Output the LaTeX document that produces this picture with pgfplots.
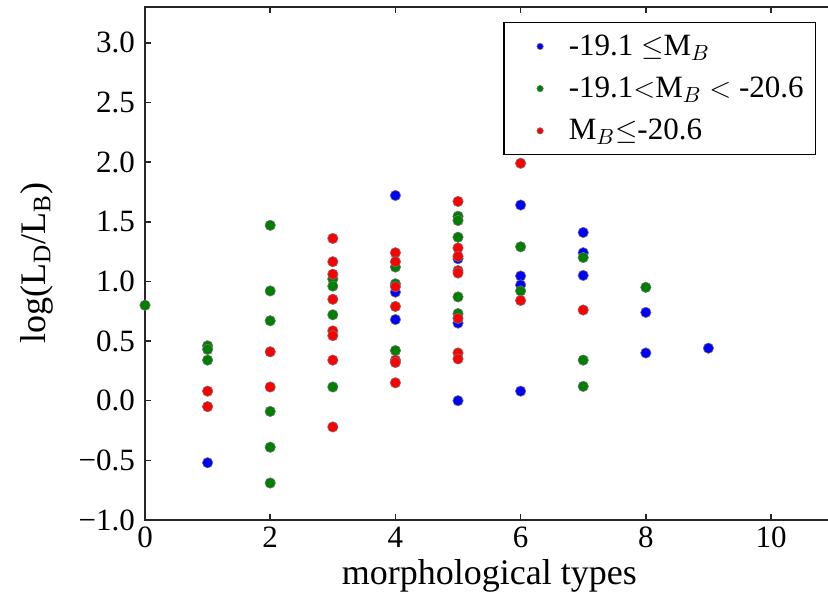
\documentclass[border=0pt]{standalone}
\usepackage{fontspec}
\setmainfont{Liberation Serif}
\usepackage{pgfplots}
\pgfplotsset{compat=1.18}
\definecolor{mblue}{rgb}{0,0,1}
\definecolor{mgreen}{rgb}{0,0.5,0}
\definecolor{mred}{rgb}{1,0,0}
\begin{document}
\begin{tikzpicture}
\begin{axis}[
  scale only axis,
  width=344.3pt, height=256.5pt,
  xmin=0, xmax=11, ymin=-1, ymax=3.3,
  xtick={0,2,4,6,8,10},
  ytick={-1,-0.5,0,0.5,1,1.5,2,2.5,3},
  yticklabels={−1.0,−0.5,0.0,0.5,1.0,1.5,2.0,2.5,3.0},
  xticklabels={0,2,4,6,8,10},
  tick label style={font=\fontsize{15.5}{17}\selectfont},
  yticklabel style={xshift=-1.5pt},
  label style={font=\fontsize{18}{20}\selectfont},
  xlabel={morphological types},
  ylabel={log(L\textsubscript{D}/L\textsubscript{B})},
  ylabel style={yshift=6pt},
  xlabel style={yshift=1pt},
  major tick length=2.9pt,
  tick style={black!85, line width=0.8pt},
  axis line style={black!85, line width=0.9pt},
  clip=false,
  legend cell align=left,
  legend style={draw=black, line width=0.8pt, at={(0.975,0.971)}, anchor=north east,
    font=\fontsize{15.5}{18}\selectfont, row sep=5.3pt, inner sep=4pt},
  legend image code/.code={\path (0cm,0cm) (0.9cm,0cm); \draw[#1, mark size=1.6pt] plot coordinates {(0.48cm,0cm)};},
]
\addplot[only marks, mark=*, mark size=2.6pt, mark options={fill=mblue, draw=black!55, line width=0.3pt}] coordinates {
(1,-0.52) (4,1.72) (4,0.91) (4,0.68) (5,1.19) (5,0.65) (5,0.0) (6,1.64) (6,1.045) (6,0.97) (6,0.08)
(7,1.41) (7,1.24) (7,1.05) (8,0.74) (8,0.40) (9,0.44)
};
\addlegendentry{-19.1 $\leq$M$_B$}
\addplot[only marks, mark=*, mark size=2.6pt, mark options={fill=mgreen, draw=black!55, line width=0.3pt}] coordinates {
(0,0.80) (1,0.46) (1,0.43) (1,0.34) (2,1.47) (2,0.92) (2,0.67) (2,-0.09) (2,-0.39) (2,-0.69)
(3,1.02) (3,0.96) (3,0.72) (3,0.115) (4,1.12) (4,0.98) (4,0.42) (5,1.546) (5,1.51) (5,1.37)
(5,0.87) (5,0.73) (6,1.29) (6,0.92) (7,1.20) (7,0.34) (7,0.12) (8,0.95)
};
\addlegendentry{-19.1$<$M$_B$ $<$ -20.6}
\addplot[only marks, mark=*, mark size=2.6pt, mark options={fill=mred, draw=black!55, line width=0.3pt}] coordinates {
(1,0.08) (1,-0.05) (2,0.41) (2,0.115) (3,1.36) (3,1.165) (3,1.06) (3,0.85) (3,0.585) (3,0.545)
(3,0.34) (3,-0.22) (4,1.24) (4,1.165) (4,0.955) (4,0.79) (4,0.34) (4,0.32) (4,0.15) (5,1.67)
(5,1.28) (5,1.21) (5,1.09) (5,1.07) (5,0.69) (5,0.40) (5,0.35) (6,1.99) (6,0.84) (7,0.76)
};
\addlegendentry{M$_B$$\leq$-20.6}
\coordinate (bl) at (axis cs:0,-1);
\coordinate (tr) at (axis cs:10.91,3.3);
\end{axis}
\pgfresetboundingbox
\path[use as bounding box] ([xshift=-72.5pt,yshift=-39.5pt]bl) rectangle ([yshift=3.5pt]tr);
\end{tikzpicture}
\end{document}
